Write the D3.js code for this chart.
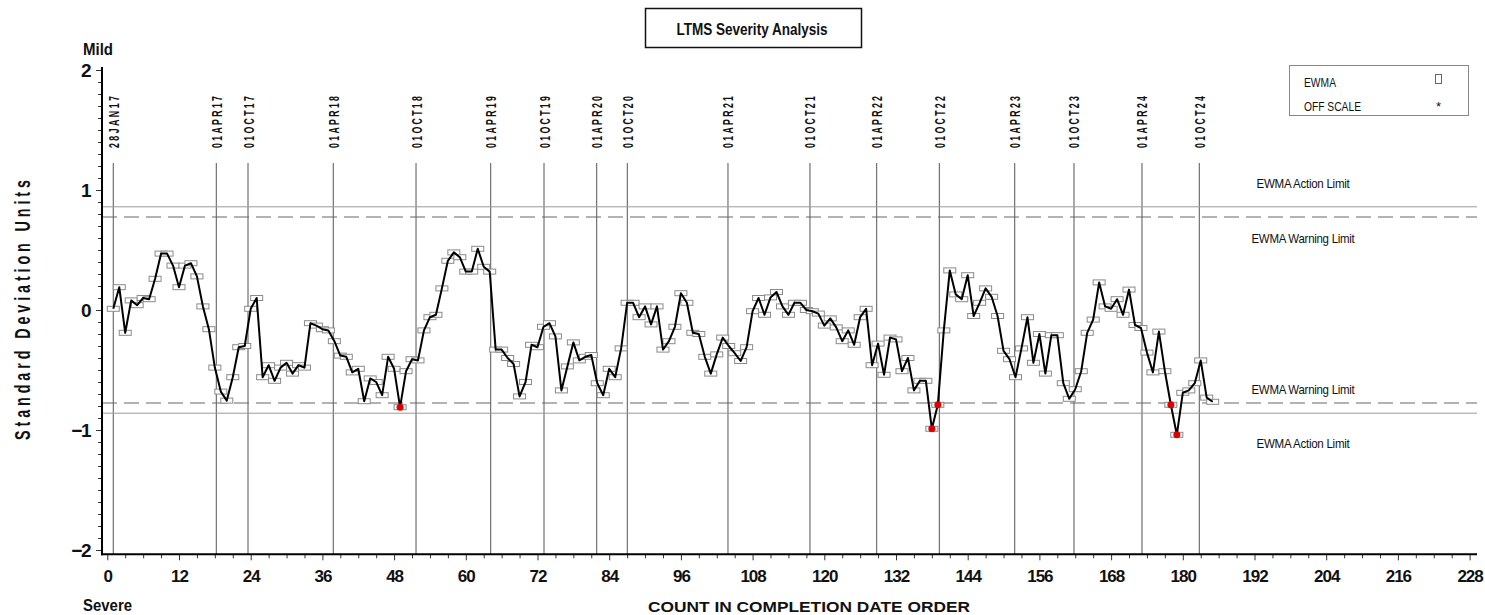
<!DOCTYPE html>
<html>
<head>
<meta charset="utf-8">
<script src="https://cdn.jsdelivr.net/npm/d3@7"></script>
<style>
  html, body { margin: 0; padding: 0; background: #fff; }
  svg { display: block; }
  text { font-family: 'Liberation Sans', Arial, sans-serif; fill: #111; }
</style>
</head>
<body>
<svg id="chart" width="1485" height="615"></svg>
<script>
// EWMA severity values, one per test in completion date order (counts 1..185)
const ewma = [
   0.01,  0.19, -0.19,  0.08,  0.04,  0.10,  0.09,  0.26,  0.47,  0.47,
   0.37,  0.19,  0.37,  0.39,  0.28,  0.03, -0.16, -0.48, -0.68, -0.755,
  -0.56, -0.31, -0.30,  0.01,  0.10, -0.56, -0.46, -0.59, -0.48, -0.44,
  -0.53, -0.46, -0.48, -0.11, -0.13, -0.16, -0.17, -0.26, -0.38, -0.39,
  -0.52, -0.49, -0.76, -0.57, -0.60, -0.71, -0.39, -0.49, -0.81, -0.51,
  -0.41, -0.42, -0.17, -0.06, -0.04,  0.18,  0.41,  0.48,  0.44,  0.32,
   0.32,  0.51,  0.36,  0.32, -0.33, -0.33, -0.40, -0.45, -0.72, -0.60,
  -0.29, -0.31, -0.14, -0.11, -0.22, -0.67, -0.47, -0.27, -0.42, -0.39,
  -0.375,-0.61, -0.71, -0.49, -0.56, -0.32,  0.06,  0.06, -0.06,  0.03,
  -0.12,  0.03, -0.33, -0.26, -0.14,  0.14,  0.06, -0.19, -0.20, -0.39,
  -0.53, -0.37, -0.23, -0.30, -0.36, -0.425,-0.31, -0.01,  0.10, -0.04,
   0.105, 0.15,  0.03, -0.04,  0.06,  0.06,  0.00, -0.01, -0.03, -0.13,
  -0.07, -0.145,-0.26, -0.17, -0.29, -0.06,  0.01, -0.46, -0.28, -0.54,
  -0.23, -0.245,-0.51, -0.40, -0.67, -0.59, -0.59, -0.99, -0.79, -0.17,
   0.33,  0.13,  0.09,  0.29, -0.05,  0.06,  0.18,  0.11, -0.05, -0.34,
  -0.41, -0.56, -0.32, -0.06, -0.44, -0.20, -0.53, -0.21, -0.21, -0.61,
  -0.74, -0.66, -0.51, -0.19, -0.08,  0.23,  0.03,  0.01,  0.09, -0.04,
   0.17, -0.125,-0.15, -0.355,-0.52, -0.18, -0.51, -0.79, -1.04, -0.69,
  -0.67, -0.61, -0.42, -0.73, -0.765
];

// Calendar reference lines and where they fall on the count axis
const dateLabels = ["28JAN17", "01APR17", "01OCT17", "01APR18", "01OCT18", "01APR19",
                    "01OCT19", "01APR20", "01OCT20", "01APR21", "01OCT21", "01APR22",
                    "01OCT22", "01APR23", "01OCT23", "01APR24", "01OCT24"];
const datePositions = [1, 18.24, 23.55, 37.82, 51.67, 64.17, 73.09, 81.91, 87.03,
                       103.88, 117.6, 128.77, 139.25, 151.87, 161.79, 173.17, 182.76];

// Control limits (standard deviation units)
const actionLimit = 0.86;
const warningLimit = 0.775;

// Axis ticks
const xTicks = [0, 12, 24, 36, 48, 60, 72, 84, 96, 108, 120, 132, 144, 156, 168,
                180, 192, 204, 216, 228];
const yTicks = [-2, -1, 0, 1, 2];

const svg = d3.select("#chart");

const x = d3.scaleLinear().domain([0, 228]).range([107.3, 1469.6]);
const y = d3.scaleLinear().domain([-2, 2]).range([550, 70]);

const frameLeft = 102, frameRight = 1477, frameTop = 67, frameBottom = 554.3;

// Narrow, letter-spaced lettering: draw at full size with tracking, then squeeze
// horizontally (along the text direction) so the run spans the wanted length.
function squeezedText(g, str, width, size, tracking, anchor) {
  const t = g.append("text")
    .attr("font-size", size).attr("font-weight", "bold")
    .attr("letter-spacing", tracking)
    .attr("text-anchor", anchor)
    .text(str);
  const natural = t.node().getComputedTextLength() - tracking;
  t.attr("transform", `scale(${width / natural},1)`);
  return t;
}

// Title box
svg.append("rect").attr("x", 645.5).attr("y", 8.5).attr("width", 216).attr("height", 39)
  .attr("fill", "none").attr("stroke", "#111").attr("stroke-width", 1.5);
svg.append("text").attr("x", 752).attr("y", 35).attr("text-anchor", "middle")
  .attr("font-size", 16).attr("font-weight", "bold")
  .attr("textLength", 151).attr("lengthAdjust", "spacingAndGlyphs")
  .text("LTMS Severity Analysis");

// Legend
svg.append("rect").attr("x", 1289.5).attr("y", 65.5).attr("width", 179).attr("height", 50)
  .attr("fill", "none").attr("stroke", "#888").attr("stroke-width", 1);
svg.append("text").attr("x", 1304).attr("y", 86.5).attr("font-size", 12)
  .attr("textLength", 32).attr("lengthAdjust", "spacingAndGlyphs").text("EWMA");
svg.append("text").attr("x", 1304).attr("y", 110.5).attr("font-size", 12)
  .attr("textLength", 57).attr("lengthAdjust", "spacingAndGlyphs").text("OFF SCALE");
svg.append("rect").attr("x", 1435.5).attr("y", 74.5).attr("width", 6).attr("height", 9)
  .attr("fill", "none").attr("stroke", "#666").attr("stroke-width", 1);
svg.append("text").attr("x", 1438.5).attr("y", 111).attr("text-anchor", "middle")
  .attr("font-size", 13).text("*");

// Date reference lines with rotated labels
const dates = svg.append("g");
dates.selectAll("line").data(datePositions).join("line")
  .attr("x1", d => x(d)).attr("x2", d => x(d))
  .attr("y1", 163).attr("y2", frameBottom)
  .attr("stroke", "#555").attr("stroke-width", 1);
dateLabels.forEach((label, i) => {
  const g = dates.append("g")
    .attr("transform", `translate(${x(datePositions[i]) + 5.5},148) rotate(-90)`);
  squeezedText(g, label, 52, 15, 4, "start").attr("fill", "#222");
});

// Control limit lines
const limits = svg.append("g");
[actionLimit, -actionLimit].forEach(v => {
  limits.append("line").attr("x1", frameLeft).attr("x2", frameRight)
    .attr("y1", y(v)).attr("y2", y(v))
    .attr("stroke", "#9a9a9a").attr("stroke-width", 1);
});
[warningLimit, -warningLimit].forEach(v => {
  limits.append("line").attr("x1", frameLeft).attr("x2", frameRight)
    .attr("y1", y(v)).attr("y2", y(v))
    .attr("stroke", "#666").attr("stroke-width", 1).attr("stroke-dasharray", "15,7");
});
const limitLabels = [
  { text: "EWMA Action Limit",  v: actionLimit,   dy: -19, w: 93 },
  { text: "EWMA Warning Limit", v: warningLimit,  dy: 25.5, w: 103 },
  { text: "EWMA Warning Limit", v: -warningLimit, dy: -9.5, w: 103 },
  { text: "EWMA Action Limit",  v: -actionLimit,  dy: 34.5, w: 93 }
];
limits.selectAll("text").data(limitLabels).join("text")
  .attr("x", 1303).attr("y", d => y(d.v) + d.dy).attr("text-anchor", "middle")
  .attr("font-size", 13).attr("letter-spacing", -0.3)
  .attr("textLength", d => d.w).attr("lengthAdjust", "spacingAndGlyphs")
  .text(d => d.text);

// Axes
const xAxisG = svg.append("g").attr("transform", `translate(0,${frameBottom})`);
xAxisG.call(d3.axisBottom(x).tickValues(d3.range(0, 229, 3).filter(v => v % 12 !== 0))
  .tickSize(4).tickFormat(""));
xAxisG.append("g").call(d3.axisBottom(x).tickValues(xTicks).tickSize(6).tickPadding(9.5)
  .tickFormat(d3.format("d")));
xAxisG.selectAll(".domain").remove();
xAxisG.selectAll("line").attr("stroke", "#333");
xAxisG.selectAll("text").attr("font-size", 17).attr("font-weight", "bold")
  .attr("letter-spacing", -1).attr("fill", "#111")
  .style("font-family", "'Liberation Sans', Arial, sans-serif");

const yAxisG = svg.append("g").attr("transform", `translate(${frameLeft},0)`);
yAxisG.call(d3.axisLeft(y).tickValues(d3.range(-20, 21).filter(v => v % 10 !== 0).map(v => v / 10))
  .tickSize(4).tickFormat(""));
yAxisG.append("g").call(d3.axisLeft(y).tickValues(yTicks).tickSize(6).tickPadding(6)
  .tickFormat(d3.format("d")));
yAxisG.selectAll(".domain").remove();
yAxisG.selectAll("line").attr("stroke", "#333");
yAxisG.selectAll("text").attr("font-size", 19).attr("font-weight", "bold")
  .attr("letter-spacing", -1.5).attr("fill", "#111")
  .style("font-family", "'Liberation Sans', Arial, sans-serif");

// Frame lines
svg.append("line").attr("x1", frameLeft).attr("x2", frameLeft)
  .attr("y1", frameTop).attr("y2", frameBottom + 1)
  .attr("stroke", "#000").attr("stroke-width", 2);
svg.append("line").attr("x1", frameLeft - 1).attr("x2", frameRight)
  .attr("y1", frameBottom).attr("y2", frameBottom)
  .attr("stroke", "#000").attr("stroke-width", 2);

// Series: markers, connecting line, points beyond the warning limit
const points = ewma.map((v, i) => ({ count: i + 1, v }));
const series = svg.append("g");
series.selectAll("rect").data(points).join("rect")
  .attr("x", d => x(d.count) - 6).attr("y", d => y(d.v) - 2.5)
  .attr("width", 12).attr("height", 5)
  .attr("fill", "#fff").attr("stroke", "#8a8a8a").attr("stroke-width", 1);
series.append("path").datum(points)
  .attr("d", d3.line().x(d => x(d.count)).y(d => y(d.v)))
  .attr("fill", "none").attr("stroke", "#000").attr("stroke-width", 2)
  .attr("stroke-linejoin", "round");
series.selectAll("circle").data(points.filter(d => Math.abs(d.v) > warningLimit + 0.005)).join("circle")
  .attr("cx", d => x(d.count)).attr("cy", d => y(d.v)).attr("r", 3.5)
  .attr("fill", "#e00000");

// Axis titles and end labels
const yTitle = svg.append("g").attr("transform", "translate(30,308) rotate(-90)");
squeezedText(yTitle, "Standard Deviation Units", 260, 22, 6, "middle");
svg.append("text").attr("x", 83).attr("y", 55).attr("font-size", 17).attr("font-weight", "bold")
  .attr("textLength", 30).attr("lengthAdjust", "spacingAndGlyphs").text("Mild");
svg.append("text").attr("x", 83).attr("y", 611).attr("font-size", 17).attr("font-weight", "bold")
  .attr("textLength", 49).attr("lengthAdjust", "spacingAndGlyphs").text("Severe");
svg.append("text").attr("x", 648).attr("y", 612).attr("font-size", 15).attr("font-weight", "bold")
  .attr("textLength", 322).attr("lengthAdjust", "spacingAndGlyphs")
  .text("COUNT IN COMPLETION DATE ORDER");
</script>
</body>
</html>
